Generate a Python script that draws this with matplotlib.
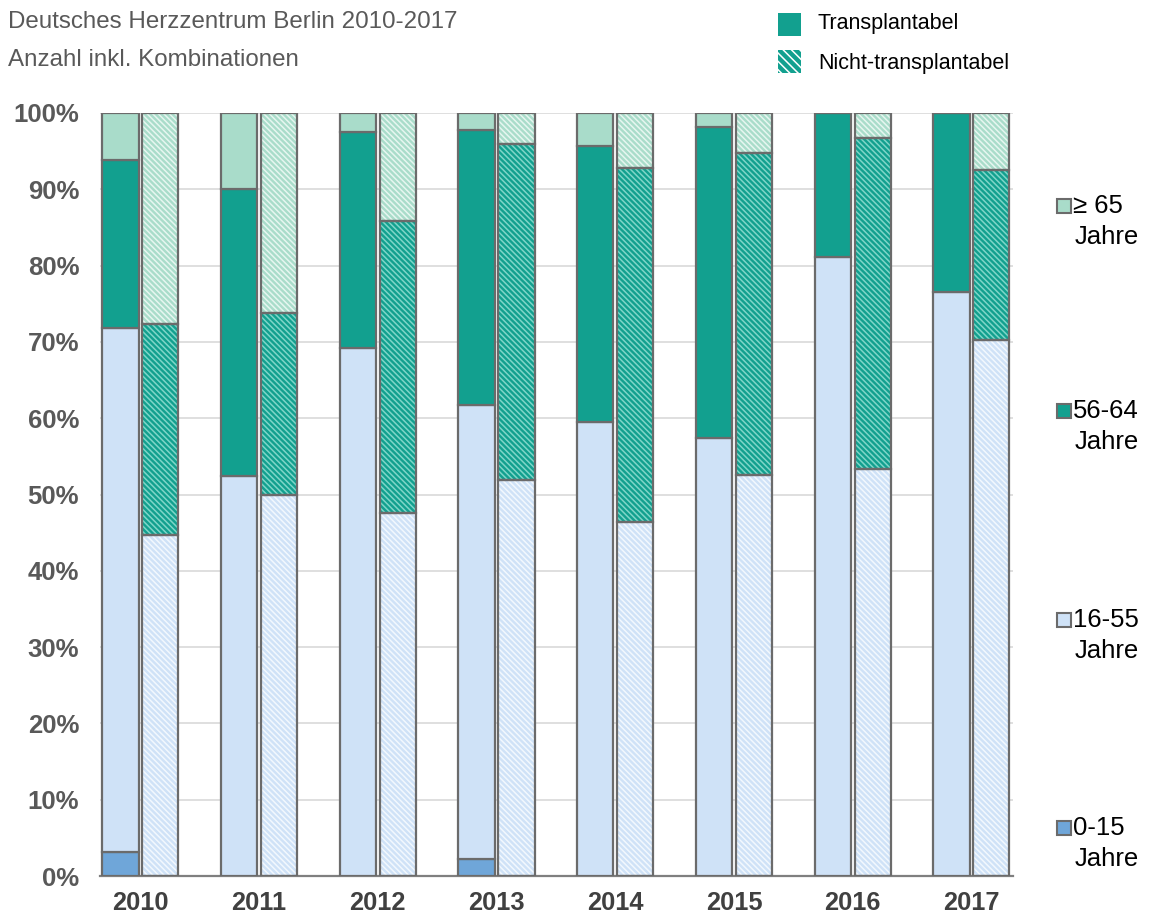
import matplotlib
matplotlib.use("Agg")
import matplotlib.pyplot as plt
from matplotlib.patches import Rectangle
import numpy as np

plt.rcParams['font.family'] = ['Liberation Sans', 'DejaVu Sans']
plt.rcParams['hatch.linewidth'] = 1.1

years = ["2010", "2011", "2012", "2013", "2014", "2015", "2016", "2017"]
age_groups = ["0-15", "16-55", "56-64", "≥ 65"]

# Transplantabel shares (%)
t_0_15  = [3.1, 0.0, 0.0, 2.2, 0.0, 0.0, 0.0, 0.0]
t_16_55 = [68.7, 52.4, 69.2, 59.5, 59.5, 57.4, 81.1, 76.5]
t_56_64 = [22.0, 37.6, 28.3, 36.1, 36.2, 40.8, 18.9, 23.5]
t_65    = [6.2, 10.0, 2.5, 2.2, 4.3, 1.8, 0.0, 0.0]

# Nicht-transplantabel shares (%)
n_0_15  = [0.0, 0.0, 0.0, 0.0, 0.0, 0.0, 0.0, 0.0]
n_16_55 = [44.7, 49.9, 47.6, 51.9, 46.4, 52.6, 53.3, 70.2]
n_56_64 = [27.6, 23.9, 38.2, 44.0, 46.4, 42.2, 43.4, 22.3]
n_65    = [27.7, 26.2, 14.2, 4.1, 7.2, 5.2, 3.3, 7.5]

colors = ["#6fa6d9", "#cfe2f7", "#12a08f", "#a9dcca"]
hatch_cols = ["#a9cdef", "#f2f8fe", "#7fd6c8", "#e6f6f0"]
edge = "#6b6b6b"

fig = plt.figure(figsize=(11.52, 9.18), dpi=100)
ax = fig.add_axes([100/1152, 1-876/918, (1013-100)/1152, (876-113)/918])

x = np.arange(len(years))
w = 0.305
off = 0.168

t_data = [t_0_15, t_16_55, t_56_64, t_65]
n_data = [n_0_15, n_16_55, n_56_64, n_65]

bottom = np.zeros(len(years))
for vals, c in zip(t_data, colors):
    v = np.array(vals)
    ax.bar(x - off, v, w, bottom=bottom, color=c, edgecolor=edge, linewidth=1.6, zorder=3)
    bottom += v

bottom = np.zeros(len(years))
for vals, c, hc in zip(n_data, colors, hatch_cols):
    v = np.array(vals)
    ax.bar(x + off, v, w, bottom=bottom, color=c, edgecolor=hc, linewidth=0,
           hatch="\\\\\\\\\\\\", zorder=3)
    ax.bar(x + off, v, w, bottom=bottom, facecolor="none", edgecolor=edge, linewidth=1.6, zorder=4)
    bottom += v

ax.set_ylim(0, 100)
ax.set_xlim(-0.34, 7.35)
ax.set_yticks(np.arange(0, 101, 10))
ax.set_yticklabels([f"{v}%" for v in range(0, 101, 10)], fontsize=18.5, fontweight="bold", color="#595959")
ax.set_xticks(x)
ax.set_xticklabels(years, fontsize=18.3, fontweight="bold", color="#404040")
ax.tick_params(axis="both", length=0)
ax.tick_params(axis="y", pad=15)
ax.tick_params(axis="x", pad=11)
ax.yaxis.grid(True, color="#d9d9d9", linewidth=1.2, zorder=0)
ax.set_axisbelow(True)
for s in ["left", "right", "top"]:
    ax.spines[s].set_visible(False)
ax.spines["bottom"].set_color("#7f7f7f")
ax.spines["bottom"].set_linewidth(1.6)

# subtitles
fig.text(8/1152, 1-22/918, "Deutsches Herzzentrum Berlin 2010-2017", fontsize=17.4, color="#595959", va="center")
fig.text(8/1152, 1-60/918, "Anzahl inkl. Kombinationen", fontsize=17.4, color="#595959", va="center")

# top legend
fig.patches.append(Rectangle((778/1152, 1-36/918), 23/1152, 23/918, transform=fig.transFigure,
                             facecolor="#12a08f", edgecolor="none"))
fig.text(818/1152, 1-24/918, "Transplantabel", fontsize=15.5, color="black", va="center")
fig.patches.append(Rectangle((778/1152, 1-73/918), 23/1152, 23/918, transform=fig.transFigure,
                             facecolor="#12a08f", edgecolor="white", linewidth=0, hatch="\\\\\\\\"))
fig.text(818/1152, 1-63/918, "Nicht-transplantabel", fontsize=15.5, color="black", va="center")

# right legend
leg_y = [828, 620, 411, 206]
for lbl, c, yy in zip(age_groups, colors, leg_y):
    fig.patches.append(Rectangle((1057/1152, 1-(yy+7)/918), 14/1152, 14/918, transform=fig.transFigure,
                                 facecolor=c, edgecolor=edge, linewidth=1.5))
    fig.text(1073/1152, 1-yy/918, lbl, fontsize=18.5, color="black", va="center")
    fig.text(1075/1152, 1-(yy+31)/918, "Jahre", fontsize=18.5, color="black", va="center")

fig.savefig("out.png", dpi=100)
